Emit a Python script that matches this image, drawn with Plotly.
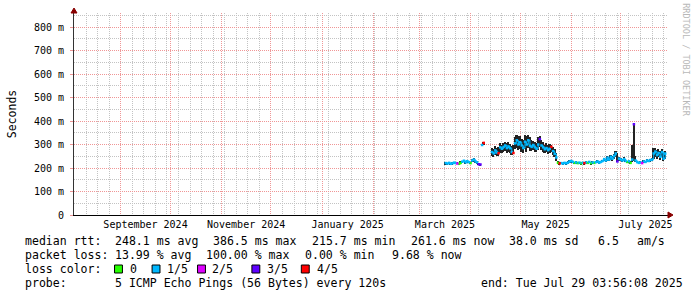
import numpy as np
import pandas as pd
import plotly.graph_objects as go

# ---------------- data ----------------
start_day = "2025-03-17"
# median rtt (ms), smoke low / high (ms), loss (number of lost pings of 5)
median_ms = [221, 219, 222, 218, 220, 223, 221, 219, 218, 222, 227, 231, 224, 229, 225, 221, 232, 236, 228, 224, 216, 215,
             298, 307, None, None, None, None,
             268, 262, 275, 266, 263, 288, 282, 290, 296, 285, 292, 284, 268, 264, 305, 318, 300, 310, 296, 285, 312, 300,
             318, 295, 290, 298, 288, 282, 300, 323, 296, 288, 280, 285, 276, 282, 290, 272, 260, 245,
             222, 220, 221, 219, 222, 220, 223, 228, 230, 226, 222, 224, 221, 223, 220, 222, 221, 224, 222, 226, 221, 224,
             222, 225, 228, 223, 226, 230, 238, 232, 244, 236, 248, 240, 252, 262, 228, 240, 236, 232, 238, 230, 226, 229,
             222, 236, 386.5, 232, 225, 222, 224, 221, 228, 226, 232, 230, 234, 236, 262, 270, 255, 264, 248, 268, 240, 261.6]
low_ms = [217, 216, 218, 215, 216, 219, 217, 216, 214, 218, 221, 224, 219, 222, 220, 217, 224, 226, 222, 219, 212, 212,
          292, 296, None, None, None, None,
          250, 248, 255, 250, 252, 262, 262, 270, 272, 265, 270, 262, 255, 258, 280, 285, 278, 282, 268, 265, 280, 270,
          285, 272, 272, 275, 270, 268, 278, 290, 275, 270, 265, 268, 260, 262, 268, 255, 245, 232,
          218, 217, 218, 216, 218, 217, 219, 222, 223, 221, 218, 220, 218, 219, 217, 218, 217, 220, 218, 221, 217, 219,
          218, 220, 222, 219, 221, 224, 228, 226, 232, 228, 236, 230, 238, 245, 224, 230, 228, 225, 228, 224, 221, 223,
          218, 225, 228, 224, 220, 218, 220, 217, 222, 221, 225, 224, 226, 228, 240, 248, 238, 245, 235, 245, 232, 240]
high_ms = [224, 223, 226, 222, 224, 227, 226, 225, 223, 228, 232, 236, 229, 234, 231, 227, 238, 242, 234, 229, 221, 219,
           304, 311, None, None, None, None,
           285, 280, 292, 285, 290, 305, 300, 308, 312, 305, 310, 302, 295, 300, 330, 340, 335, 338, 325, 318, 340, 335,
           342, 330, 318, 315, 310, 305, 330, 335, 318, 310, 300, 308, 298, 302, 298, 290, 282, 262,
           230, 224, 225, 223, 226, 224, 228, 233, 234, 230, 226, 228, 225, 227, 224, 226, 225, 229, 226, 230, 225, 228,
           227, 230, 233, 228, 231, 236, 244, 240, 250, 246, 254, 250, 258, 272, 266, 248, 244, 240, 246, 238, 232, 236,
           228, 300, 389, 250, 230, 227, 229, 226, 234, 232, 238, 236, 240, 244, 285, 286, 278, 282, 272, 280, 262, 272]
loss = [1, 1, 1, 1, 1, 1, 1, 2, 0, 0, 1, 1, 1, 1, 1, 0, 1, 1, 1, 1, 3, 3,
        1, 4, 0, 0, 0, 0,
        1, 1, 1, 1, 4, 1, 1, 1, 1, 1, 1, 1, 1, 4, 1, 1, 1, 1, 1, 1, 1, 1,
        1, 1, 1, 1, 1, 1, 1, 3, 1, 1, 1, 1, 1, 1, 4, 1, 1, 1,
        0, 4, 1, 1, 1, 1, 1, 1, 1, 1, 0, 1, 0, 1, 0, 1, 4, 1, 0, 1, 0, 1,
        0, 1, 1, 1, 1, 1, 1, 1, 1, 1, 1, 1, 1, 1, 3, 1, 1, 1, 1, 1, 0, 1,
        0, 1, 3, 1, 1, 1, 1, 2, 1, 1, 1, 1, 1, 1, 1, 1, 1, 1, 1, 1, 1, 1]

loss_names = ["0", "1/5", "2/5", "3/5", "4/5"]
loss_colors = ["#26ff00", "#00b8ff", "#dd00ff", "#5e00ff", "#ff0000"]

y_tick_vals = [0, 0.1, 0.2, 0.3, 0.4, 0.5, 0.6, 0.7, 0.8]
y_tick_text = ["0", "100 m", "200 m", "300 m", "400 m", "500 m", "600 m", "700 m", "800 m"]

x_start = "2024-08-03 16:00"
x_end = "2025-07-29 16:00"

row1 = [("median rtt:", 16), ("248.1 ms avg", 107), ("386.5 ms max", 207), ("215.7 ms min", 306.5),
        ("261.6 ms now", 407), ("38.0 ms sd", 506.5), ("6.5", 596.5), ("am/s", 636)]
row2 = [("packet loss:", 16), ("13.99 % avg", 107), ("100.00 % max", 200), ("0.00 % min", 300), ("9.68 % now", 388)]
row3_label = "loss color:"
row4 = [("probe:", 16), ("5 ICMP Echo Pings (56 Bytes) every 120s", 107), ("end: Tue Jul 29 03:56:08 2025", 478)]
watermark = "RRDTOOL / TOBI OETIKER"

# ---------------- figure ----------------
dates = pd.date_range(start_day, periods=len(median_ms), freq="D")
med = np.array([np.nan if v is None else v / 1000.0 for v in median_ms])
lo = np.array([np.nan if v is None else v / 1000.0 for v in low_ms])
hi = np.array([np.nan if v is None else v / 1000.0 for v in high_ms])
lossa = np.array(loss)

FONT = "DejaVu Sans Mono"
L, R, T, B = 67, 29, 13, 82
W, H = 697, 297
PW, PH = W - L - R, H - T - B


def px(x):
    return (x - L) / PW


def py(y):
    return (T + PH - y) / PH


fig = go.Figure()

fig.add_trace(go.Bar(x=dates, y=hi - lo, base=lo, width=86400000 * 1.0,
                     marker=dict(color="#222222", line=dict(width=0)), showlegend=False,
                     hoverinfo="skip"))

for k, (nm, col) in enumerate(zip(loss_names, loss_colors)):
    yk = np.where(lossa == k, med, np.nan)
    fig.add_trace(go.Scatter(x=dates, y=yk, mode="lines+markers", name=nm,
                             line=dict(color=col, width=1, shape="hv"),
                             marker=dict(color=col, size=2.5, symbol="square", line=dict(width=0)),
                             connectgaps=False, showlegend=False))

red_grid = "rgb(240,150,150)"
gray_grid = "rgb(195,195,195)"

fig.update_layout(
    width=W, height=H, autosize=False,
    margin=dict(l=L, r=R, t=T, b=B, pad=0),
    paper_bgcolor="white", plot_bgcolor="white",
    bargap=0, barmode="overlay",
    font=dict(family=FONT, size=10, color="black"),
    xaxis=dict(type="date", range=[x_start, x_end],
               dtick="M1", tick0="2024-09-01", ticklabelmode="period", ticklabelstep=2,
               tickformat="%B %Y", ticks="", showgrid=True, gridcolor=red_grid, griddash="1px,1px",
               gridwidth=1, zeroline=False, showline=True, linecolor="black", linewidth=1,
               tickfont=dict(family=FONT, size=10, color="black"),
               minor=dict(dtick=7 * 86400000, tick0="2024-09-01", showgrid=True,
                          gridcolor=gray_grid, griddash="1px,1px", ticks=""),
               fixedrange=True),
    yaxis=dict(range=[0, 0.86], tickmode="array", tickvals=y_tick_vals, ticktext=y_tick_text,
               showgrid=True, gridcolor=red_grid, griddash="1px,1px", zeroline=False,
               showline=True, linecolor="#333333", linewidth=1,
               ticks="outside", ticklen=3, tickcolor=red_grid, ticklabelstandoff=4,
               tickfont=dict(family=FONT, size=10, color="black"),
               minor=dict(dtick=0.05, showgrid=True, gridcolor=gray_grid, griddash="1px,1px", ticks=""),
               title=dict(text="Seconds", font=dict(family=FONT, size=11.5, color="black"), standoff=14),
               fixedrange=True),
)

ann = []
LF = dict(family=FONT, size=11.55, color="black")


def add_text(txt, x, y):
    ann.append(dict(text=txt, x=px(x), y=py(y), xref="paper", yref="paper", xanchor="left",
                    yanchor="middle", showarrow=False, font=LF, borderpad=0))


for t, x in row1:
    add_text(t, x, 241)
for t, x in row2:
    add_text(t, x, 255)
add_text(row3_label, 16, 269)
for t, x in row4:
    add_text(t, x, 283)

shapes = []
sq_x = [108, 146, 192, 247, 297]
lbl_x = [123, 160, 205.5, 261.5, 311.5]
for k in range(5):
    shapes.append(dict(type="rect", xref="paper", yref="paper", x0=px(sq_x[k]), x1=px(sq_x[k] + 8),
                       y0=py(273), y1=py(265), fillcolor=loss_colors[k], line=dict(color="black", width=1)))
    add_text(loss_names[k], lbl_x[k], 269)

ann.append(dict(text=watermark, x=px(686), y=py(60), xref="paper", yref="paper", xanchor="center",
                yanchor="middle", showarrow=False, textangle=90,
                font=dict(family=FONT, size=8.5, color="#b8b8b8")))

# axis arrows
shapes.append(dict(type="path", xref="paper", yref="paper", xsizemode="pixel", ysizemode="pixel",
                   xanchor=0, yanchor=1, path="M -3 0 L 3 0 L 0 5 Z",
                   fillcolor="#880000", line=dict(color="#880000", width=1)))
shapes.append(dict(type="path", xref="paper", yref="paper", xsizemode="pixel", ysizemode="pixel",
                   xanchor=1, yanchor=0, path="M 0 -3 L 0 3 L 5 0 Z",
                   fillcolor="#880000", line=dict(color="#880000", width=1)))

fig.update_layout(annotations=ann, shapes=shapes)

fig.write_html("out.html")
